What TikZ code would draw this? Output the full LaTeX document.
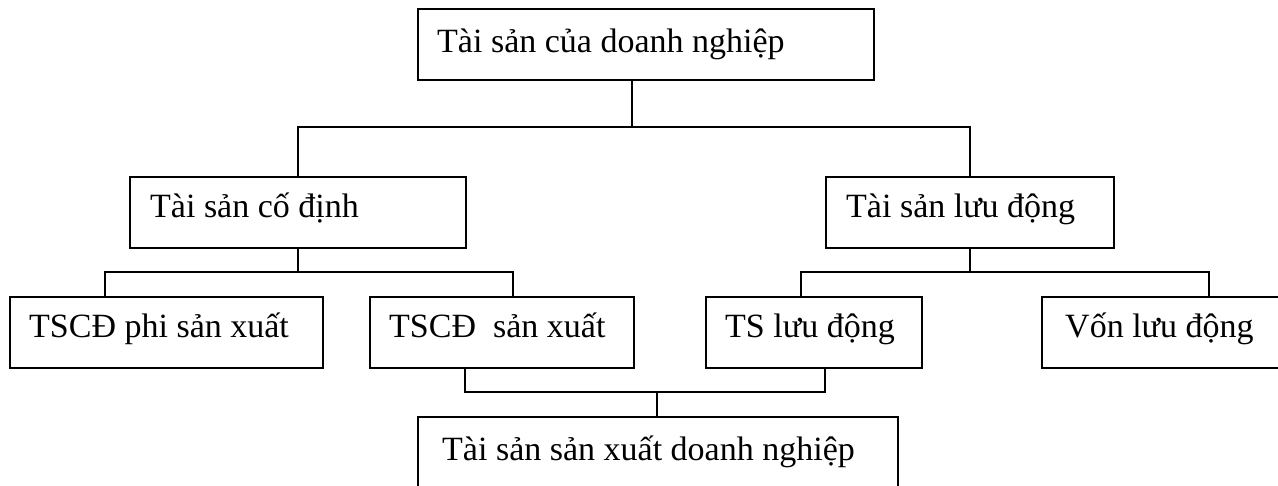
\documentclass[tikz,border=0pt]{standalone}
\usepackage{fontspec}
\setmainfont{Liberation Serif}
\begin{document}
\begin{tikzpicture}[x=1pt,y=-1pt,
  box/.style={draw, line width=1.6pt, rectangle, inner sep=0pt, minimum height=71pt, anchor=north west},
  lbl/.style={anchor=base west, inner sep=0pt, font=\fontsize{34}{40}\selectfont},
  conn/.style={line width=1.6pt}]
\useasboundingbox (0,0) rectangle (1278,485);
\clip (0,0) rectangle (1278,485);
% boxes
\node[box, minimum width=456pt] (top)  at (417,8)   {};
\node[box, minimum width=336pt] (tscd) at (129,176) {};
\node[box, minimum width=288pt] (tsld) at (825,176) {};
\node[box, minimum width=313pt] (b1)   at (9,296)   {};
\node[box, minimum width=264pt] (b2)   at (369,296) {};
\node[box, minimum width=216pt] (b3)   at (705,296) {};
\node[box, minimum width=260pt] (b4)   at (1041,296) {};
\node[box, minimum width=480pt] (bot)  at (417,416) {};
% texts
\node[lbl] (ttop)  at ([shift={(20pt,-44pt)}]top.north west)  {Tài sản của doanh nghiệp};
\node[lbl] (ttscd) at ([shift={(21pt,-41pt)}]tscd.north west) {Tài sản cố định};
\node[lbl] (ttsld) at ([shift={(21pt,-41pt)}]tsld.north west) {Tài sản lưu động};
\node[lbl] (tb1)   at ([shift={(20pt,-41pt)}]b1.north west)   {TSCĐ phi sản xuất};
\node[lbl] (tb2)   at ([shift={(20pt,-41pt)}]b2.north west)   {TSCĐ\ \ sản xuất};
\node[lbl] (tb3)   at ([shift={(20pt,-41pt)}]b3.north west)   {TS lưu động};
\node[lbl] (tb4)   at ([shift={(24pt,-41pt)}]b4.north west)   {Vốn lưu động};
\node[lbl] (tbot)  at ([shift={(25pt,-44pt)}]bot.north west)  {Tài sản sản xuất doanh nghiệp};
% junction coordinates
\coordinate (j1) at (632,127);
\coordinate (k1) at (105,272);
\coordinate (k2) at (513,272);
\coordinate (k3) at (801,272);
\coordinate (k4) at (1209,272);
\coordinate (m1) at (465,392);
\coordinate (m2) at (825,392);
\coordinate (m0) at (657,392);
% connectors
\draw[conn] (j1 |- top.south) -- (j1);
\draw[conn] (tscd.north) |- (j1) -| (tsld.north);
\draw[conn] (tscd.south) -- (tscd.south |- k1);
\draw[conn] (k1 |- b1.north) -- (k1) -- (k2) -- (k2 |- b2.north);
\draw[conn] (tsld.south) -- (tsld.south |- k3);
\draw[conn] (k3 |- b3.north) -- (k3) -- (k4) -- (k4 |- b4.north);
\draw[conn] (m1 |- b2.south) -- (m1) -- (m2) -- (m2 |- b3.south);
\draw[conn] (m0) -- (m0 |- bot.north);
\end{tikzpicture}
\end{document}
